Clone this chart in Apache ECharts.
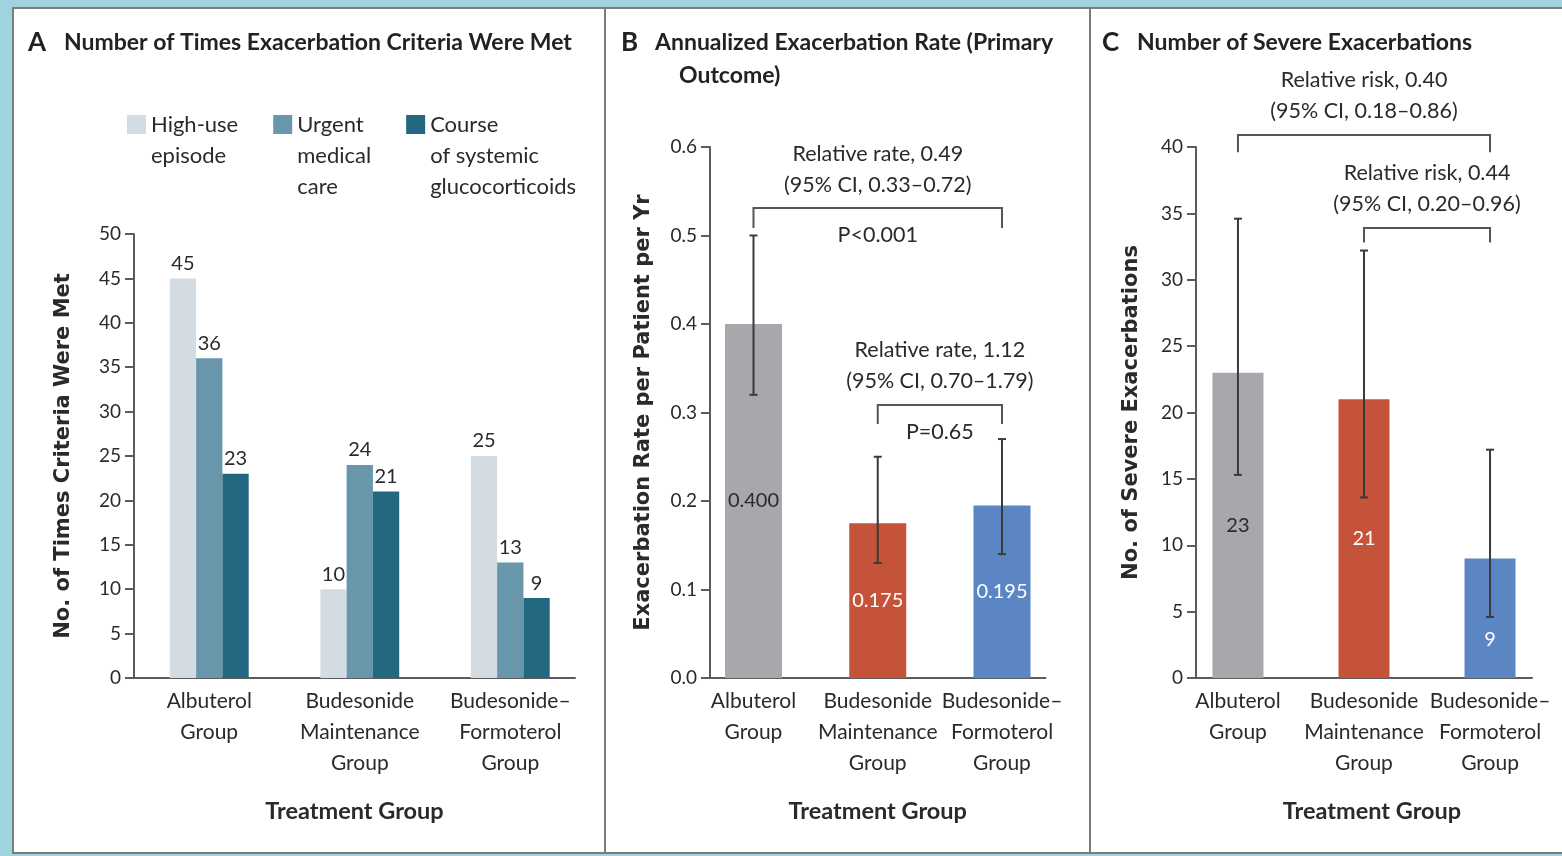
<!DOCTYPE html>
<html><head><meta charset="utf-8">
<script src="https://cdn.jsdelivr.net/npm/echarts@6/dist/echarts.min.js"></script>
<style>html,body{margin:0;padding:0;background:#9fd4df;}#c{width:1562px;height:856px;}</style>
</head><body><div id="c"></div>
<script>
// ---------------- data ----------------
const categories = ['Albuterol\nGroup', 'Budesonide\nMaintenance\nGroup', 'Budesonide\u2013\nFormoterol\nGroup'];
const seriesNamesA = ['High-use episode', 'Urgent medical care', 'Course of systemic glucocorticoids'];
const legendLabelsA = ['High-use\nepisode', 'Urgent\nmedical\ncare', 'Course\nof systemic\nglucocorticoids'];
const highUse = [45, 10, 25];
const urgentCare = [36, 24, 13];
const glucocorticoids = [23, 21, 9];
const rateB = [0.400, 0.175, 0.195];
const rateLowB = [0.32, 0.13, 0.14];
const rateHighB = [0.50, 0.25, 0.27];
const severeC = [23, 21, 9];
const severeLowC = [15.3, 13.6, 4.6];
const severeHighC = [34.6, 32.2, 17.2];
const yTicksA = [0, 5, 10, 15, 20, 25, 30, 35, 40, 45, 50];
const yTicksB = [0.0, 0.1, 0.2, 0.3, 0.4, 0.5, 0.6];
const yTicksC = [0, 5, 10, 15, 20, 25, 30, 35, 40];
const comparisonsB = [
  {from: 0, to: 2, text: 'Relative rate, 0.49\n(95% CI, 0.33\u20130.72)', p: 'P<0.001'},
  {from: 1, to: 2, text: 'Relative rate, 1.12\n(95% CI, 0.70\u20131.79)', p: 'P=0.65'}
];
const comparisonsC = [
  {from: 0, to: 2, text: 'Relative risk, 0.40\n(95% CI, 0.18\u20130.86)', p: ''},
  {from: 1, to: 2, text: 'Relative risk, 0.44\n(95% CI, 0.20\u20130.96)', p: ''}
];
// bracket heights (data units of each panel's y axis): [bar, legEnd]
const bracketLevelsB = [[0.531, 0.5085], [0.3085, 0.287]];
const bracketLevelsC = [[40.9, 39.6], [33.9, 32.8]];

// ---------------- styles ----------------
const FONT = 'Lato, "Liberation Sans", sans-serif';
const NAMEFONT = '"DejaVu Sans", Verdana, sans-serif';
const TXT = '#2a2a2a';
const AX = '#5c5c5c';
const colorsA = ['#d3dce3', '#6896aa', '#236880'];
const colorsBC = ['#a7a8ac', '#c5533a', '#5b86c3'];
const labelColorsBC = ['#2a2a2a', '#ffffff', '#ffffff'];

function yAxisCfg(idx, ticks, name, nameGap, fmt) {
  return {
    type: 'value', gridIndex: idx, min: ticks[0], max: ticks[ticks.length - 1],
    interval: ticks[1] - ticks[0],
    name: name, nameLocation: 'middle', nameGap: nameGap,
    nameTextStyle: {fontFamily: NAMEFONT, fontSize: 21, fontWeight: 'bold', color: TXT},
    axisLine: {show: true, onZero: false, lineStyle: {color: AX, width: 2}},
    axisTick: {show: true, length: 9, lineStyle: {color: AX, width: 2}},
    axisLabel: {margin: 13, fontFamily: FONT, fontSize: 19, color: TXT, formatter: fmt},
    splitLine: {show: false}
  };
}
function xAxisCfg(idx, min, max, namePad) {
  return {
    type: 'value', gridIndex: idx, min: min, max: max,
    name: 'Treatment Group', nameLocation: 'middle', nameGap: 121,
    nameTextStyle: {fontFamily: FONT, fontSize: 23.5, fontWeight: 'bold', color: TXT, padding: namePad},
    axisLine: {show: true, onZero: false, lineStyle: {color: AX, width: 2}},
    axisTick: {show: false},
    splitLine: {show: false},
    axisLabel: {customValues: [0, 1, 2], formatter: v => categories[Math.round(v)],
      margin: 8, fontFamily: FONT, fontSize: 21, lineHeight: 31, color: TXT}
  };
}
function errorSeries(idx, lo, hi) {
  return {
    type: 'custom', xAxisIndex: idx, yAxisIndex: idx, silent: true, z: 5,
    data: lo.map((v, i) => [i, v, hi[i]]),
    encode: {x: 0, y: [1, 2]},
    renderItem: (params, api) => {
      const a = api.coord([api.value(0), api.value(1)]);
      const b = api.coord([api.value(0), api.value(2)]);
      const st = {stroke: '#3a3a3a', lineWidth: 2};
      return {type: 'group', children: [
        {type: 'line', shape: {x1: a[0], y1: a[1], x2: b[0], y2: b[1]}, style: st},
        {type: 'line', shape: {x1: a[0] - 4, y1: a[1], x2: a[0] + 4, y2: a[1]}, style: st},
        {type: 'line', shape: {x1: b[0] - 4, y1: b[1], x2: b[0] + 4, y2: b[1]}, style: st}
      ]};
    }
  };
}
function bracketSeries(idx, comps, levels) {
  return {
    type: 'custom', xAxisIndex: idx, yAxisIndex: idx, silent: true, z: 5,
    data: comps.map((c, i) => [c.from, c.to, levels[i][0], levels[i][1]]),
    encode: {x: [0, 1], y: [2, 3]},
    renderItem: (params, api) => {
      const c = comps[params.dataIndex];
      const p1 = api.coord([api.value(0), api.value(3)]);
      const p2 = api.coord([api.value(0), api.value(2)]);
      const p3 = api.coord([api.value(1), api.value(2)]);
      const p4 = api.coord([api.value(1), api.value(3)]);
      const mx = (p2[0] + p3[0]) / 2;
      const kids = [
        {type: 'polyline', shape: {points: [p1, p2, p3, p4]}, style: {stroke: '#555', lineWidth: 2, fill: null}},
        {type: 'text', style: {text: c.text, x: mx, y: p2[1] - 8, align: 'center', verticalAlign: 'bottom',
          fontFamily: FONT, fontSize: 21.5, lineHeight: 31, fill: TXT}}
      ];
      if (c.p) kids.push({type: 'text', style: {text: c.p, x: mx, y: p2[1] + 27, align: 'center', verticalAlign: 'middle',
          fontFamily: FONT, fontSize: 21.5, fill: TXT}});
      return {type: 'group', children: kids};
    }
  };
}
function barSeriesBC(idx, vals, width, fmt, offsets) {
  return {
    type: 'bar', xAxisIndex: idx, yAxisIndex: idx, barWidth: width, silent: true,
    data: vals.map((v, i) => ({value: [i, v], itemStyle: {color: colorsBC[i]},
      label: {color: labelColorsBC[i], offset: offsets ? offsets[i] : [0, 0]}})),
    label: {show: true, position: 'inside', fontFamily: FONT, fontSize: 20, formatter: p => fmt(p.value[1])}
  };
}

const panelRect = (x, w) => ({type: 'rect', z: -10, shape: {x: x, y: 8, width: w, height: 845},
  style: {fill: '#ffffff', stroke: '#7b7b7b', lineWidth: 2}});
const ttl = (x, y, text, size) => ({type: 'text', z: 10, style: {text: text, x: x, y: y, verticalAlign: 'middle',
  fontFamily: FONT, fontSize: size, fontWeight: 'bold', fill: '#222'}});

const option = {
  backgroundColor: '#9fd4df',
  animation: false,
  graphic: [
    panelRect(13, 592), panelRect(605, 485), panelRect(1090, 490),
    ttl(28, 43, 'A', 26), ttl(64, 43, 'Number of Times Exacerbation Criteria Were Met', 23),
    ttl(621, 43, 'B', 26), ttl(655, 43, 'Annualized Exacerbation Rate (Primary', 23), ttl(679, 76, 'Outcome)', 23),
    ttl(1102, 43, 'C', 26), ttl(1137, 43, 'Number of Severe Exacerbations', 23)
  ],
  legend: {
    left: 127, top: 47, padding: 0, orient: 'horizontal', itemGap: 35,
    itemWidth: 19, itemHeight: 19, icon: 'rect', selectedMode: false,
    data: seriesNamesA,
    // leading blank lines keep the first text line level with the colour square
    formatter: n => {
      const lab = legendLabelsA[seriesNamesA.indexOf(n)];
      return '\n'.repeat(lab.split('\n').length - 1) + lab;
    },
    textStyle: {fontFamily: FONT, fontSize: 22, lineHeight: 31, color: TXT}
  },
  grid: [
    {left: 134, top: 234, width: 441, height: 444},
    {left: 710, top: 147, width: 335.5, height: 531},
    {left: 1196, top: 147, width: 336, height: 531}
  ],
  xAxis: [xAxisCfg(0, -0.5, 2.43, 0), xAxisCfg(1, -0.35, 2.35, 0), xAxisCfg(2, -0.333, 2.333, [0, 0, 0, 16])],
  yAxis: [
    yAxisCfg(0, yTicksA, 'No. of Times Criteria Were Met', 60, v => v),
    yAxisCfg(1, yTicksB, 'Exacerbation Rate per Patient per Yr', 56, v => v.toFixed(1)),
    yAxisCfg(2, yTicksC, 'No. of Severe Exacerbations', 54, v => v)
  ],
  series: [
    ...[highUse, urgentCare, glucocorticoids].map((arr, s) => ({
      name: seriesNamesA[s], type: 'bar', xAxisIndex: 0, yAxisIndex: 0, barWidth: 26.3, barGap: '0%', silent: true,
      itemStyle: {color: colorsA[s]},
      data: arr.map((v, i) => [i, v]),
      label: {show: true, position: 'top', distance: 5, fontFamily: FONT, fontSize: 20, color: TXT, formatter: p => p.value[1]}
    })),
    barSeriesBC(1, rateB, 57, v => v.toFixed(3)),
    errorSeries(1, rateLowB, rateHighB),
    bracketSeries(1, comparisonsB, bracketLevelsB),
    barSeriesBC(2, severeC, 51, v => String(v), [[0, 0], [0, 0], [0, 21]]),
    errorSeries(2, severeLowC, severeHighC),
    bracketSeries(2, comparisonsC, bracketLevelsC)
  ]
};
const chart = echarts.init(document.getElementById('c'), null, {renderer: 'canvas'});
chart.setOption(option);
</script></body></html>
